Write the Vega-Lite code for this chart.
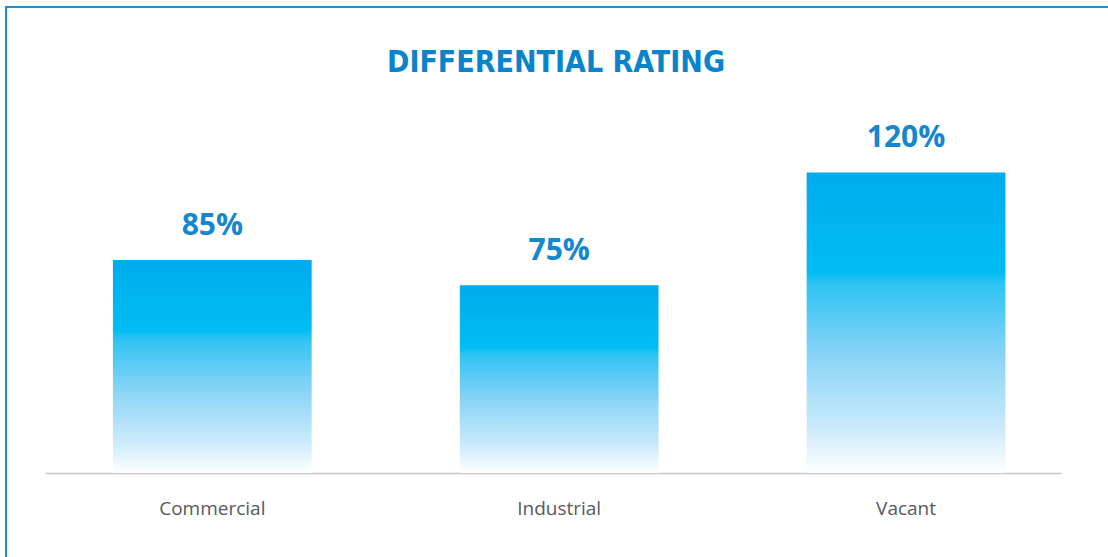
{
  "$schema": "https://vega.github.io/schema/vega-lite/v6.json",
  "width": 1104,
  "height": 552,
  "autosize": {"type": "none"},
  "padding": {"left": 6, "top": 7, "right": 0, "bottom": 0},
  "background": "white",
  "config": {"view": {"stroke": "#1b8fd6", "strokeWidth": 2}},
  "title": {
    "text": "DIFFERENTIAL RATING",
    "font": "DejaVu Sans Condensed",
    "fontSize": 30,
    "fontWeight": "bold",
    "color": "#0884cc",
    "anchor": "middle",
    "frame": "group",
    "offset": -95,
    "baseline": "alphabetic",
    "dx": -2
  },
  "data": {
    "values": [
      {"category": "Commercial", "value": 85, "label": "85%"},
      {"category": "Industrial", "value": 75, "label": "75%"},
      {"category": "Vacant", "value": 120, "label": "120%"}
    ]
  },
  "encoding": {
    "x": {
      "field": "category",
      "type": "nominal",
      "sort": null,
      "scale": {"range": [39, 1055], "paddingInner": 0.427, "paddingOuter": 0.178, "align": 0.55},
      "axis": {
        "title": null,
        "orient": "bottom",
        "offset": -86,
        "domainColor": "#c8c8c8",
        "domainWidth": 1.5,
        "ticks": false,
        "tickSize": 0,
        "labelPadding": 26,
        "labelFont": "Open Sans",
        "labelFontSize": 19,
        "labelColor": "#58595b",
        "labelAngle": 0,
        "grid": false
      }
    },
    "y": {
      "field": "value",
      "type": "quantitative",
      "scale": {"domain": [0, 150], "range": [466, 90.25]},
      "axis": null
    }
  },
  "layer": [
    {
      "mark": {
        "type": "bar",
        "fill": {
          "gradient": "linear",
          "x1": 0, "y1": 0, "x2": 0, "y2": 1,
          "stops": [
            {"offset": 0, "color": "#00abee"},
            {"offset": 0.33, "color": "#00bdf2"},
            {"offset": 0.37, "color": "#2ec3f3"},
            {"offset": 0.6, "color": "#86d3f6"},
            {"offset": 0.85, "color": "#cbeafb"},
            {"offset": 1, "color": "#ffffff"}
          ]
        }
      }
    },
    {
      "mark": {
        "type": "text",
        "baseline": "alphabetic",
        "dy": -25,
        "font": "Open Sans",
        "fontSize": 30,
        "fontWeight": "bold",
        "color": "#1487cf"
      },
      "encoding": {"text": {"field": "label"}}
    }
  ]
}
